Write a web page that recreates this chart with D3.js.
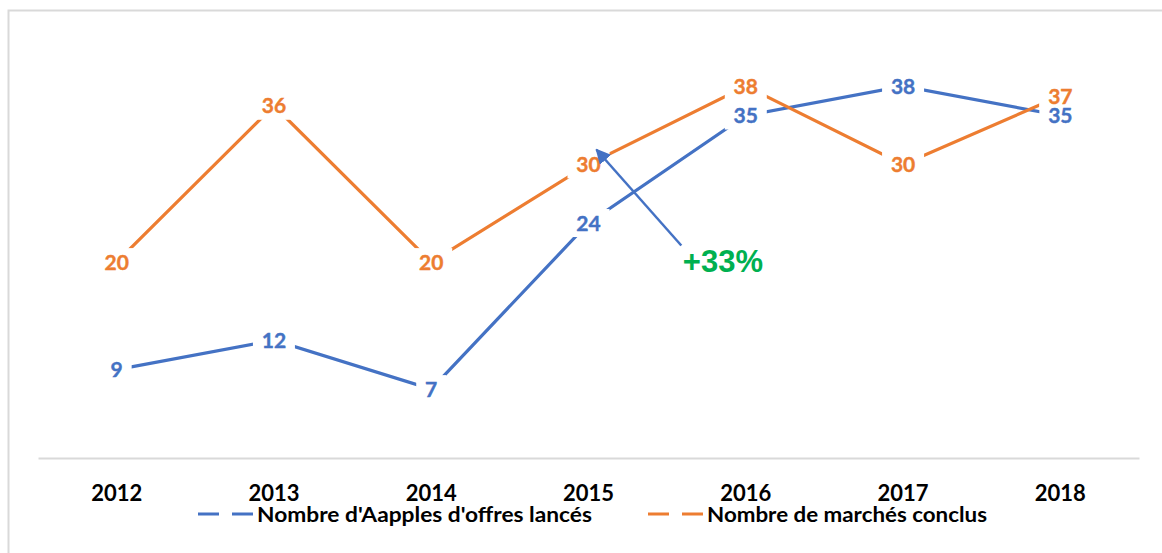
<!DOCTYPE html>
<html>
<head>
<meta charset="utf-8">
<script src="https://cdn.jsdelivr.net/npm/d3@7"></script>
<style>
  body { margin: 0; background: #fff; }
  text { font-family: Lato, "Open Sans", sans-serif; font-weight: bold; }
</style>
</head>
<body>
<svg id="chart" width="1162" height="553"></svg>
<script>
// categories and series
var years = ["2012", "2013", "2014", "2015", "2016", "2017", "2018"];
var offres = [9, 12, 7, 24, 35, 38, 35];      // Nombre d'Aapples d'offres lancés
var marches = [20, 36, 20, 30, 38, 30, 37];   // Nombre de marchés conclus
var seriesNames = ["Nombre d'Aapples d'offres lancés", "Nombre de marchés conclus"];
var annotation = "+33%";

var colors = {blue: "#4472c4", orange: "#ed7d31", green: "#00b050"};

var svg = d3.select("#chart");

// outer frame of the chart area
svg.append("rect")
    .attr("x", 8.5)
    .attr("y", 10.5)
    .attr("width", 1300)
    .attr("height", 700)
    .attr("fill", "#fff")
    .attr("stroke", "#d9d9d9")
    .attr("stroke-width", 2);

var x = d3.scaleBand()
    .domain(years)
    .range([38, 1139]);

var xc = function(d) { return x(d) + x.bandwidth() / 2; };

var y = d3.scaleLinear()
    .domain([0, 40])
    .range([457.5, 66.7]);

// category axis
var axis = svg.append("g")
    .attr("transform", "translate(0," + 458 + ")")
    .call(d3.axisBottom(x).tickSize(0));

axis.select(".domain")
    .attr("stroke", "#d9d9d9")
    .attr("stroke-width", 2);

axis.selectAll(".tick text")
    .attr("y", 43)
    .attr("dy", 0)
    .attr("fill", "#000")
    .style("font-family", "Lato, sans-serif")
    .style("font-weight", "bold")
    .style("font-size", "22px");

var series = [
  {name: seriesNames[0], values: offres, color: colors.blue, width: 335},
  {name: seriesNames[1], values: marches, color: colors.orange, width: 280}
];

var line = d3.line()
    .x(function(d, i) { return xc(years[i]); })
    .y(function(d) { return y(d); });

series.forEach(function(s) {
  svg.append("path")
      .datum(s.values)
      .attr("fill", "none")
      .attr("stroke", s.color)
      .attr("stroke-width", 3.2)
      .attr("d", line);
});

// white boxes behind the labels (lines stop short of the numbers)
series.forEach(function(s) {
  svg.append("g").selectAll("rect")
      .data(s.values)
      .join("rect")
      .attr("x", function(d, i) { return xc(years[i]) - (String(d).length * 12) / 2 - 9; })
      .attr("y", function(d) { return y(d) - 14; })
      .attr("width", function(d) { return String(d).length * 12 + 18; })
      .attr("height", 28)
      .attr("fill", "#fff");
});

series.forEach(function(s) {
  svg.append("g").selectAll("text")
      .data(s.values)
      .join("text")
      .attr("x", function(d, i) { return xc(years[i]); })
      .attr("y", function(d) { return y(d); })
      .attr("dy", "0.36em")
      .attr("text-anchor", "middle")
      .attr("fill", s.color)
      .attr("stroke", s.color)
      .attr("stroke-width", 0.4)
      .style("font-size", "21px")
      .text(function(d) { return d; });
});

// annotation arrow
svg.append("defs").append("marker")
    .attr("id", "head")
    .attr("viewBox", "0 0 10 10")
    .attr("refX", 9)
    .attr("refY", 5)
    .attr("markerWidth", 6)
    .attr("markerHeight", 6)
    .attr("orient", "auto")
  .append("path")
    .attr("d", "M0,0L10,5L0,10Z")
    .attr("fill", colors.blue);

var step = x.step();
svg.append("line")
    .attr("x1", xc("2015") + 0.59 * step)
    .attr("y1", y(21.7))
    .attr("x2", xc("2015") + 8)
    .attr("y2", y(31.5))
    .attr("stroke", colors.blue)
    .attr("stroke-width", 2.5)
    .attr("marker-end", "url(#head)");

svg.append("text")
    .attr("x", xc("2015") + 0.6 * step)
    .attr("y", y(19.0))
    .attr("fill", colors.green)
    .style("font-family", "'Liberation Sans', Arial, sans-serif")
    .style("font-size", "31px")
    .text(annotation);

// legend
var legendX = [198, 648];
var legend = svg.append("g");
series.forEach(function(s, i) {
  var g = legend.append("g").attr("transform", "translate(" + legendX[i] + ",514)");
  g.append("line")
      .attr("x1", 0)
      .attr("x2", 55)
      .attr("stroke", s.color)
      .attr("stroke-width", 3.2)
      .attr("stroke-dasharray", "21,13");
  g.append("text")
      .attr("x", 59)
      .attr("y", 8)
      .attr("fill", "#000")
      .attr("textLength", s.width)
      .attr("lengthAdjust", "spacingAndGlyphs")
      .style("font-size", "20px")
      .text(s.name);
});
</script>
</body>
</html>
